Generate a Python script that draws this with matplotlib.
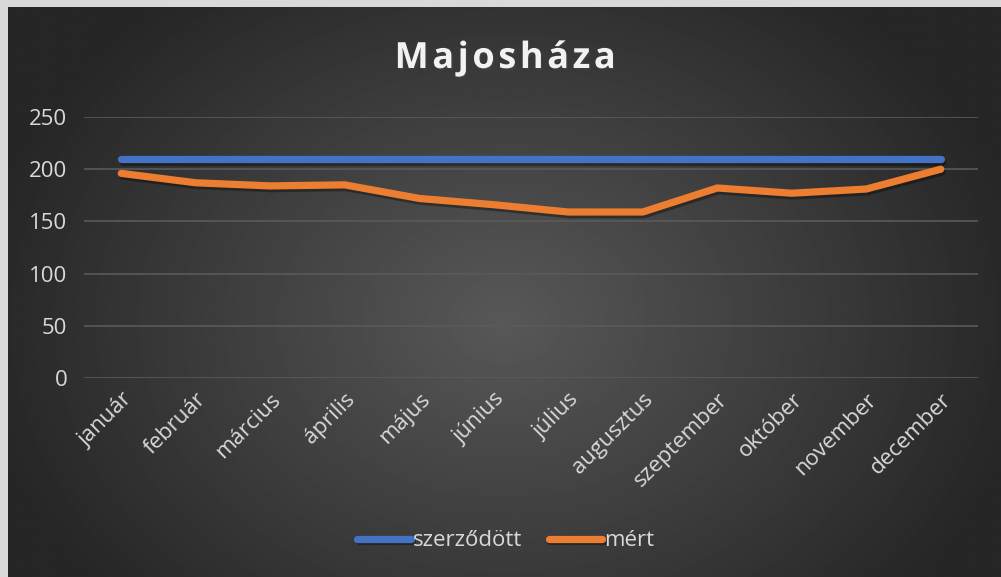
import numpy as np
import matplotlib.pyplot as plt
import matplotlib.patheffects as pe

months = ['január', 'február', 'március', 'április', 'május', 'június',
          'július', 'augusztus', 'szeptember', 'október', 'november', 'december']
szerzodott = [210, 210, 210, 210, 210, 210, 210, 210, 210, 210, 210, 210]
mert = [196, 187, 184, 185, 172, 166, 159, 159, 182, 177, 181, 200]
yticks = [0, 50, 100, 150, 200, 250]

plt.rcParams['font.family'] = ['Open Sans', 'DejaVu Sans']

fig = plt.figure(figsize=(10.01, 5.77), dpi=100)
fig.patch.set_facecolor('#d9d9d9')

# radial gradient background (chart area inside light frame)
bg = fig.add_axes([8 / 1001, 0, 993 / 1001, 1 - 7 / 577])
bg.set_axis_off()
yy, xx = np.mgrid[0:1:300j, 0:1:500j]
r = np.sqrt(((xx - 0.5) / 0.55) ** 2 + ((yy - 0.55) / 0.75) ** 2)
shade = np.clip(0.345 - 0.2 * r, 0.15, 1)
bg.imshow(shade, cmap='gray', vmin=0, vmax=1, aspect='auto',
          extent=[0, 1, 0, 1], interpolation='bilinear')

ax = fig.add_axes([84 / 1001, 1 - 378 / 577, (978 - 84) / 1001, (378 - 117) / 577])
ax.patch.set_alpha(0)
x = np.arange(len(months))

shadow = [pe.SimpleLineShadow(offset=(1, -2), shadow_color='black', alpha=0.35), pe.Normal()]
ax.plot(x, szerzodott, color='#4472c4', lw=5.2, solid_capstyle='round',
        solid_joinstyle='round', label='szerződött', path_effects=shadow, zorder=3)
ax.plot(x, mert, color='#ed7d31', lw=5.2, solid_capstyle='round',
        solid_joinstyle='round', label='mért', path_effects=shadow, zorder=3)

ax.set_xlim(-0.5, len(months) - 0.5)
ax.set_ylim(0, 250)
ax.set_yticks(yticks)
ax.grid(axis='y', color='#5a5a5a', lw=1.2)
ax.set_axisbelow(True)
for s in ax.spines.values():
    s.set_visible(False)
ax.tick_params(length=0, colors='#d9d9d9', labelsize=16)
ax.tick_params(axis='y', pad=12)
ax.set_xticks(x)
ax.set_xticklabels(months, rotation=45, ha='right', rotation_mode='anchor')
ax.tick_params(axis='x', pad=8)

title = '\u200a'.join('Majosháza')
fig.text(0.505, 1 - 59 / 577, title, ha='center', va='center',
         color='#f2f2f2', fontsize=26, fontweight='bold',
         path_effects=[pe.SimplePatchShadow(offset=(1, -1.5), alpha=0.4), pe.Normal()])

leg = ax.legend(loc='center', bbox_to_anchor=((506 - 84) / 894, (378 - 541) / (378 - 117)),
                ncol=2, frameon=False, fontsize=16, handlelength=2.4,
                handletextpad=0.1, columnspacing=1.2, labelcolor='#d9d9d9')
for h in leg.get_lines():
    h.set_linewidth(5.2)
    h.set_solid_capstyle('round')

fig.savefig('out.png', dpi=100, facecolor=fig.get_facecolor())
